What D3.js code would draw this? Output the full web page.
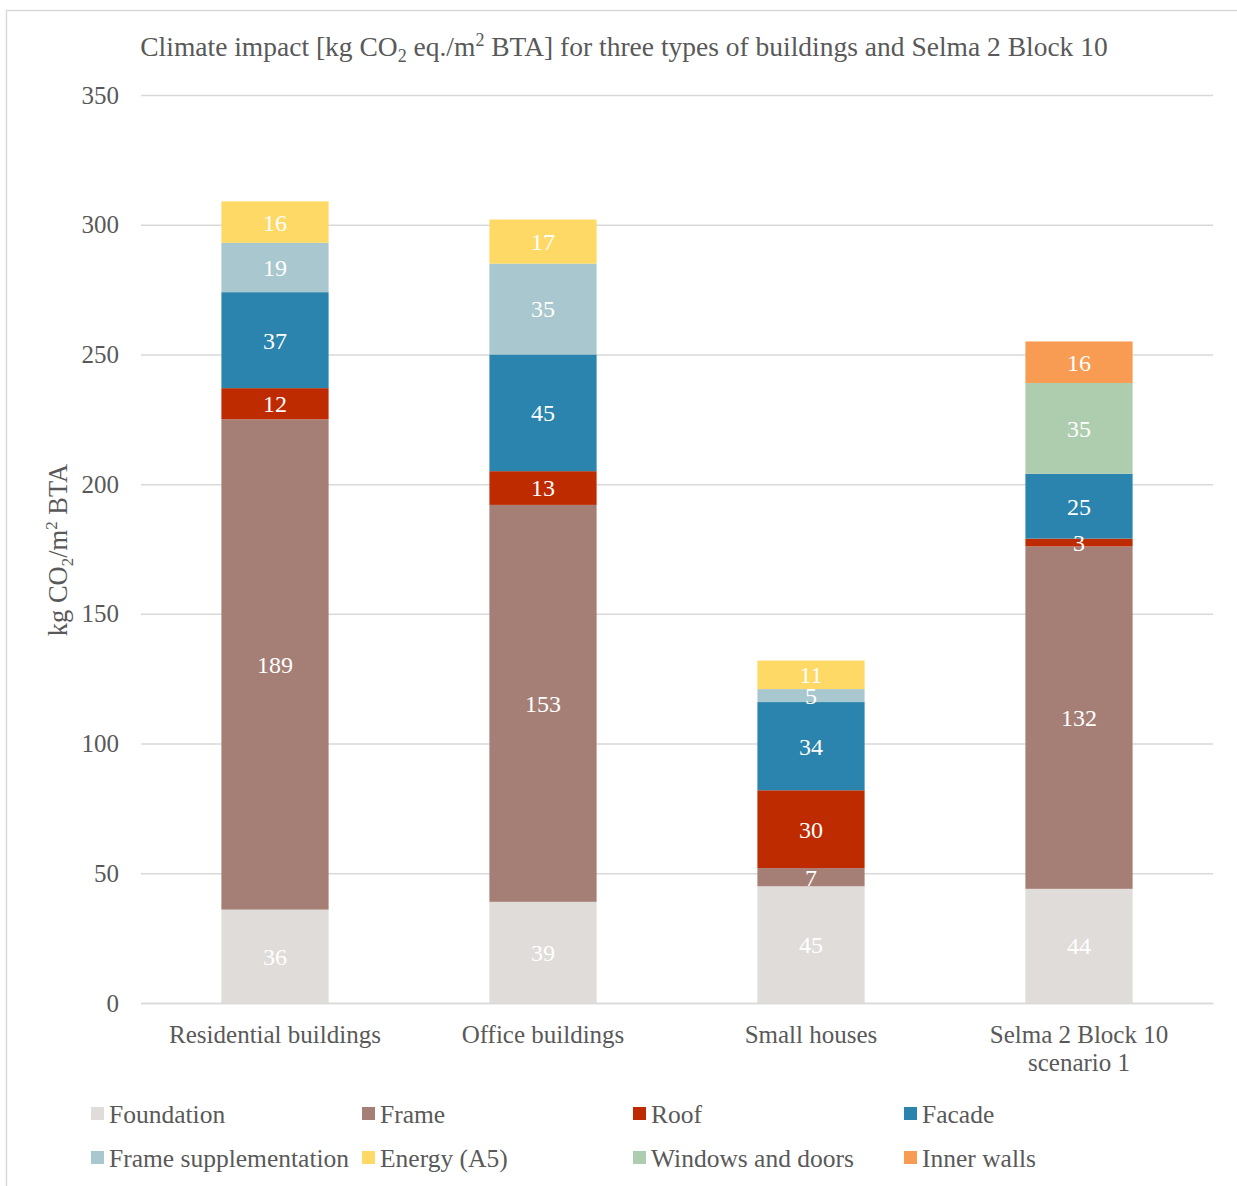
<!DOCTYPE html>
<html>
<head>
<meta charset="utf-8">
<script src="https://cdn.jsdelivr.net/npm/d3@7"></script>
<style>
  html, body { margin: 0; padding: 0; background: #fff; }
  svg { display: block; }
  text { font-family: "Liberation Serif", "DejaVu Serif", serif; fill: #595959; }
</style>
</head>
<body>
<svg id="chart" width="1237" height="1186"></svg>
<script>
// ---- data ----
const categories = ["Residential buildings", "Office buildings", "Small houses", "Selma 2 Block 10 scenario 1"];
const seriesNames = ["Foundation", "Frame", "Roof", "Facade", "Frame supplementation", "Energy (A5)", "Windows and doors", "Inner walls"];
const foundation = [36, 39, 45, 44];
const frame = [189, 153, 7, 132];
const roof = [12, 13, 30, 3];
const facade = [37, 45, 34, 25];
const frameSupplementation = [19, 35, 5, 0];
const energyA5 = [16, 17, 11, 0];
const windowsAndDoors = [0, 0, 0, 35];
const innerWalls = [0, 0, 0, 16];
const yTicks = [0, 50, 100, 150, 200, 250, 300, 350];
const seriesColors = ["#E0DCDA", "#A57F75", "#BE2B00", "#2A84AD", "#A9C7CE", "#FED966", "#AECDAF", "#F79C52"];

const seriesValues = [foundation, frame, roof, facade, frameSupplementation, energyA5, windowsAndDoors, innerWalls];
const table = categories.map((c, i) => {
  const row = { category: c };
  seriesNames.forEach((s, j) => row[s] = seriesValues[j][i]);
  return row;
});

// ---- layout ----
const plot = { left: 141, right: 1213, top: 95, bottom: 1003 };
const svg = d3.select("#chart");

// outer border
svg.append("rect").attr("x", 6.5).attr("y", 10.5).attr("width", 1240).attr("height", 1190)
  .attr("fill", "#fff").attr("stroke", "#D9D9D9").attr("stroke-width", 1.5);

const x = d3.scaleBand().domain(categories).range([plot.left, plot.right]).paddingInner(0.6).paddingOuter(0.3);
const y = d3.scaleLinear().domain([0, 350]).range([plot.bottom, plot.top]);

// gridlines
const grid = svg.append("g").call(d3.axisLeft(y).tickValues(yTicks).tickSize(-(plot.right - plot.left)).tickFormat(""))
  .attr("transform", `translate(${plot.left},0)`);
grid.select(".domain").remove();
grid.selectAll(".tick line").attr("stroke", "#D9D9D9").attr("stroke-width", 1.5);

// y tick labels
const yAxis = svg.append("g").attr("transform", `translate(${plot.left},0)`)
  .call(d3.axisLeft(y).tickValues(yTicks).tickSize(0).tickPadding(22));
yAxis.select(".domain").remove();
yAxis.selectAll("text").style("font-family", '"Liberation Serif", serif').attr("font-size", 25).attr("fill", "#595959");

// stacks
const stack = d3.stack().keys(seriesNames)(table);
const layers = svg.append("g").selectAll("g").data(stack).join("g")
  .attr("fill", (d, i) => seriesColors[i]);
layers.selectAll("rect").data(d => d.map(p => ({ p, key: d.key }))).join("rect")
  .attr("x", d => x(d.p.data.category))
  .attr("width", x.bandwidth())
  .attr("y", d => y(d.p[1]))
  .attr("height", d => y(d.p[0]) - y(d.p[1]));

// data labels
const labels = svg.append("g");
stack.forEach(layer => {
  layer.forEach(p => {
    const v = p[1] - p[0];
    if (v <= 0) return;
    labels.append("text")
      .attr("x", x(p.data.category) + x.bandwidth() / 2)
      .attr("y", y((p[0] + p[1]) / 2))
      .attr("dy", "0.35em")
      .attr("text-anchor", "middle")
      .attr("font-size", 24)
      .style("fill", "#fff")
      .text(v);
  });
});

// x category labels
const xAxis = svg.append("g").attr("transform", `translate(0,${plot.bottom})`)
  .call(d3.axisBottom(x).tickSize(0).tickPadding(0));
xAxis.select(".domain").attr("stroke", "#D9D9D9").attr("stroke-width", 1.5);
xAxis.selectAll("text").remove();
categories.forEach(c => {
  const words = c.split(" ");
  const lines = [];
  let cur = "";
  words.forEach(w => {
    const t = cur ? cur + " " + w : w;
    if (t.length > 21) { lines.push(cur); cur = w; } else cur = t;
  });
  lines.push(cur);
  const t = svg.append("text").attr("text-anchor", "middle").attr("font-size", 25)
    .attr("x", x(c) + x.bandwidth() / 2).attr("y", plot.bottom + 40);
  lines.forEach((l, i) => t.append("tspan").attr("x", x(c) + x.bandwidth() / 2).attr("dy", i ? 28 : 0).text(l));
});

// title
const title = svg.append("text").attr("x", 624).attr("y", 56).attr("text-anchor", "middle").attr("font-size", 27.5);
title.append("tspan").text("Climate impact [kg CO");
title.append("tspan").attr("font-size", 18).attr("dy", 6).text("2");
title.append("tspan").attr("dy", -6).text(" eq./m");
title.append("tspan").attr("font-size", 18).attr("dy", -10).text("2");
title.append("tspan").attr("dy", 10).text(" BTA] for three types of buildings and Selma 2 Block 10");

// y axis title
const yt = svg.append("text").attr("text-anchor", "middle").attr("font-size", 26.5)
  .attr("transform", `translate(67,${(plot.top + plot.bottom) / 2 + 1}) rotate(-90)`);
yt.append("tspan").text("kg CO");
yt.append("tspan").attr("font-size", 17).attr("dy", 6).text("2");
yt.append("tspan").attr("dy", -6).text("/m");
yt.append("tspan").attr("font-size", 17).attr("dy", -10).text("2");
yt.append("tspan").attr("dy", 10).text(" BTA");

// legend
const legend = svg.append("g");
seriesNames.forEach((s, i) => {
  const col = i % 4, row = Math.floor(i / 4);
  const lx = 91 + col * 271, ly = 1114 + row * 44;
  legend.append("rect").attr("x", lx).attr("y", ly - 7).attr("width", 13).attr("height", 13).attr("fill", seriesColors[i]);
  legend.append("text").attr("x", lx + 18).attr("y", ly).attr("dy", "0.35em").attr("font-size", 25.5).text(s);
});
</script>
</body>
</html>
